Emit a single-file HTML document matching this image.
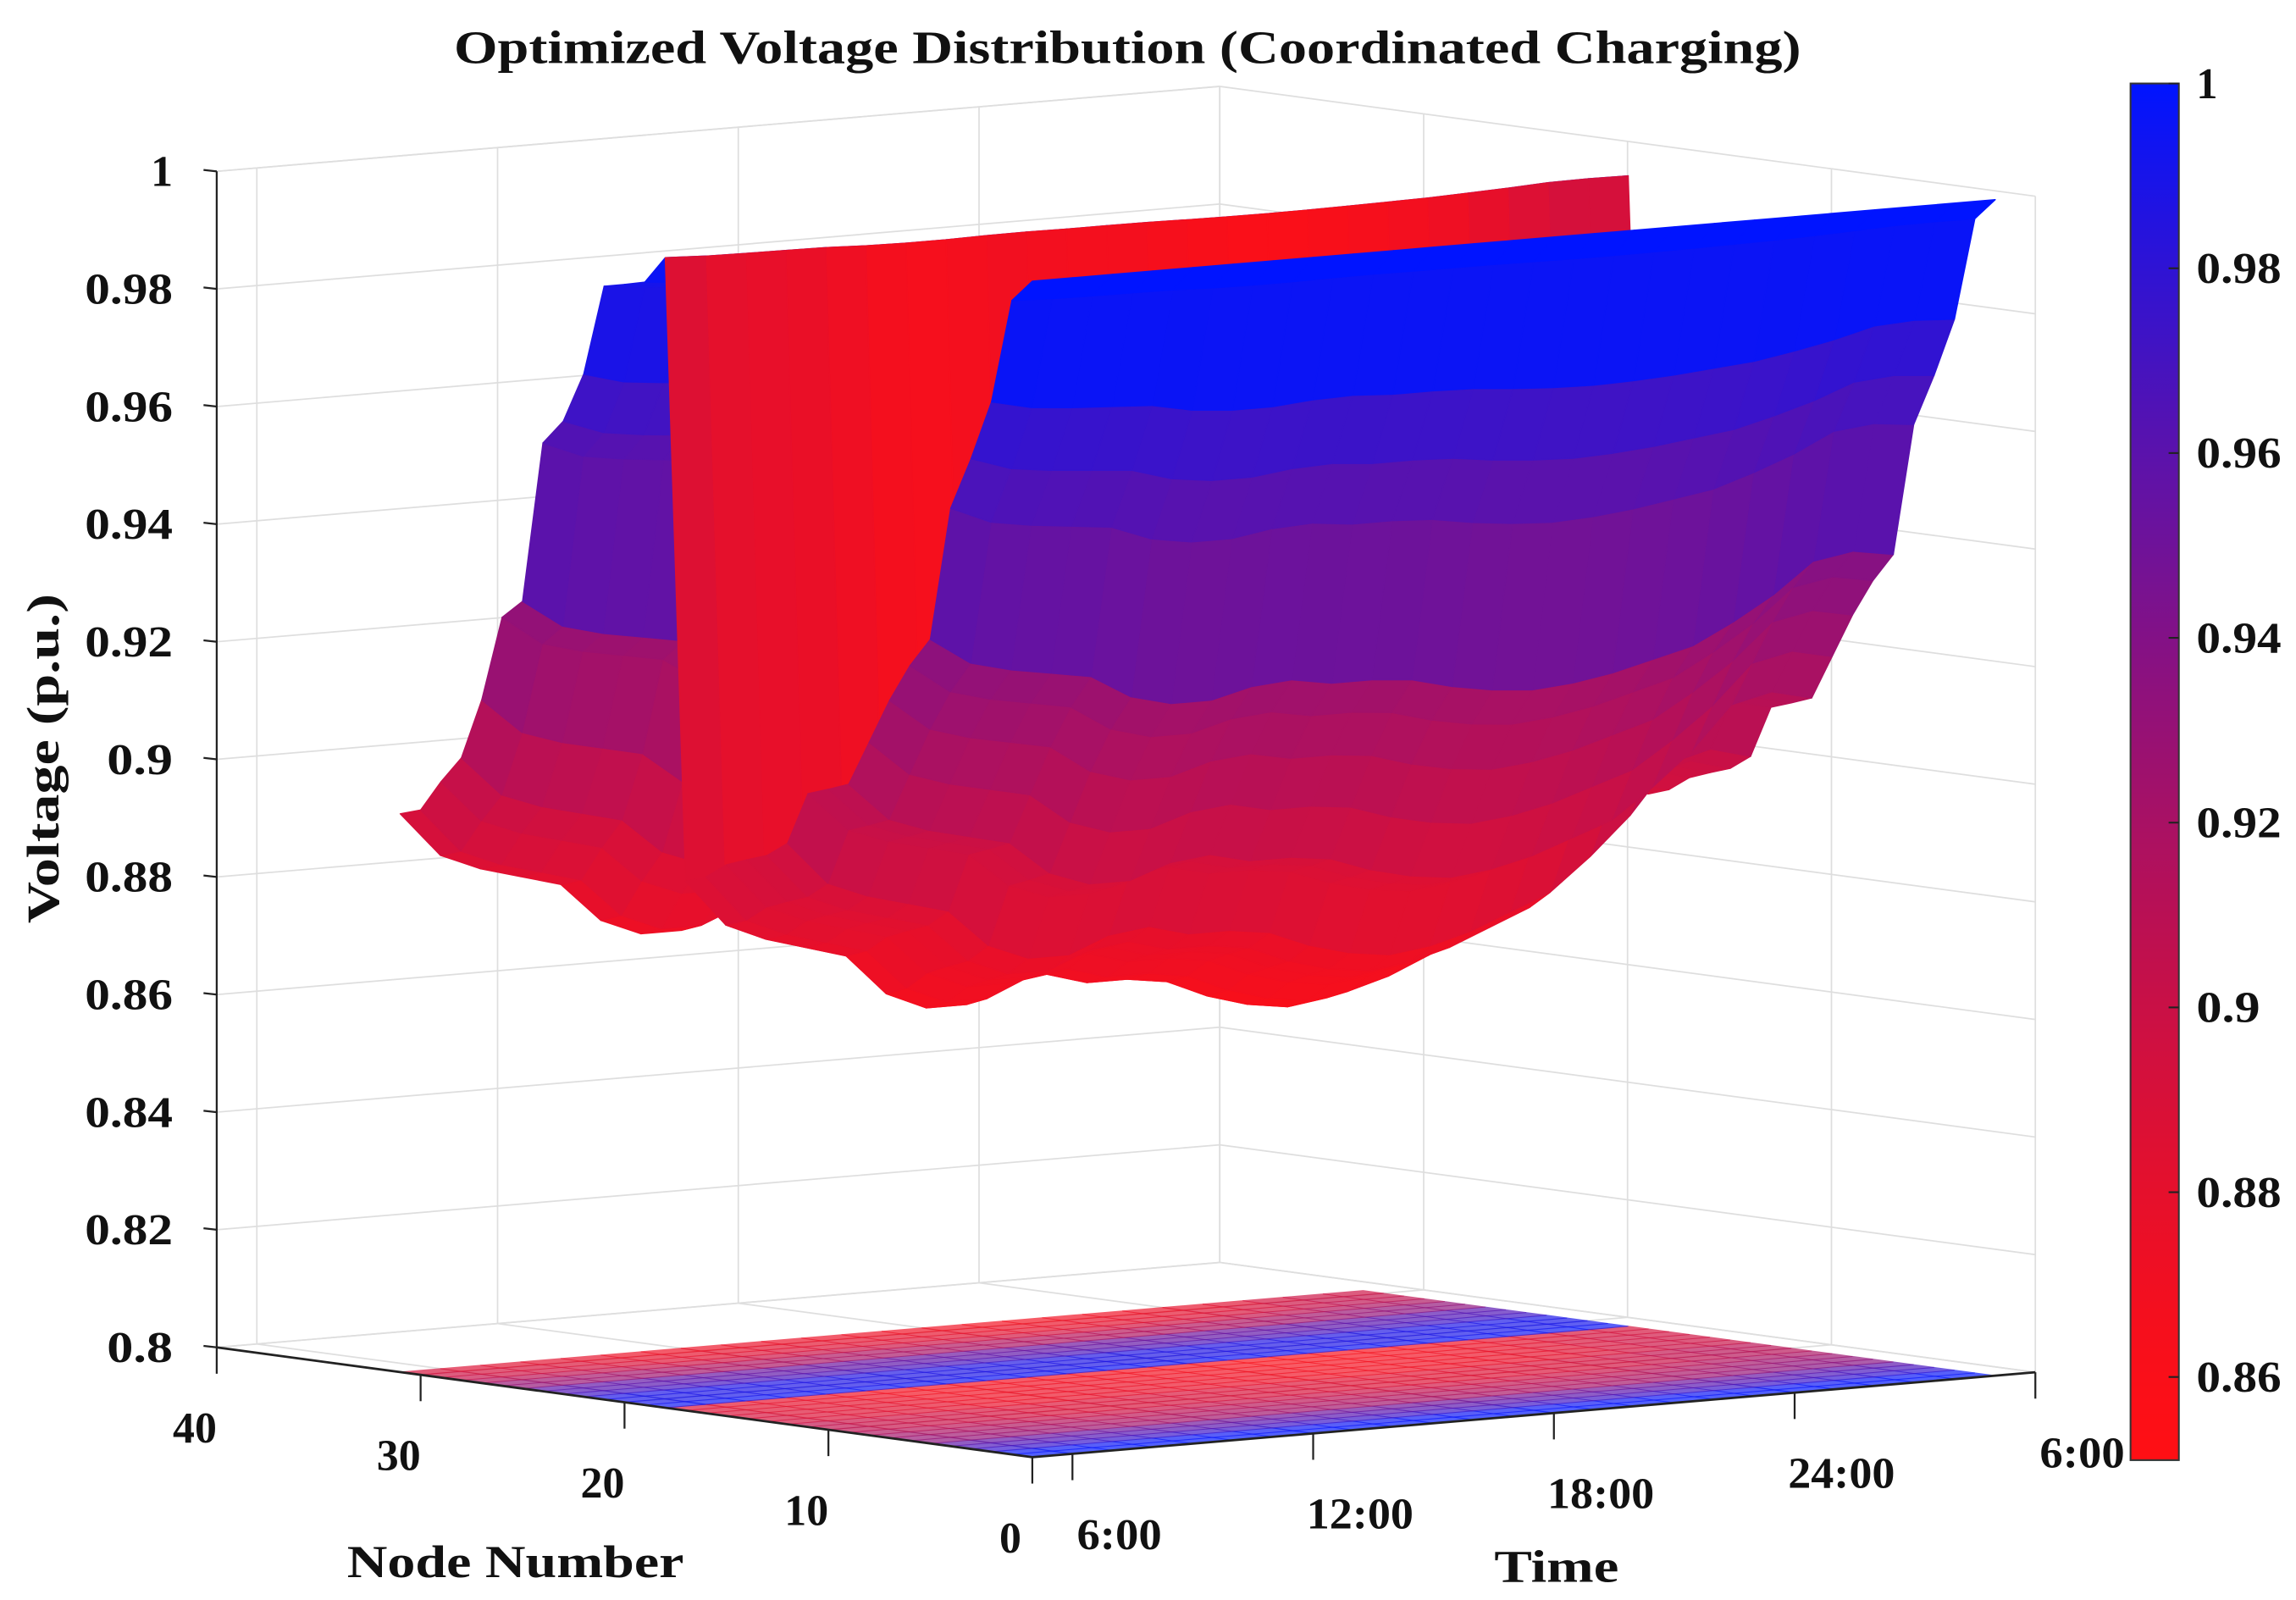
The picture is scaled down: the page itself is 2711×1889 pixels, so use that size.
<!DOCTYPE html>
<html><head><meta charset="utf-8"><style>
html,body{margin:0;padding:0;background:#fff;}
svg{display:block;}
text{font-family:"Liberation Serif",serif;font-weight:bold;fill:#111;}
</style></head><body>
<svg id="chart" xmlns="http://www.w3.org/2000/svg" width="2711" height="1889" viewBox="0 0 1568 1092.5" preserveAspectRatio="none">
<rect x="0" y="0" width="1568" height="1092.5" fill="#fff"/>
<g id="grid"></g>
<g id="floor"></g>
<g id="surface"></g>
<g id="axes"></g>
<g id="cbar"></g>
<text x="770" y="43" text-anchor="middle" font-size="32" textLength="920" lengthAdjust="spacingAndGlyphs">Optimized Voltage Distribution (Coordinated Charging)</text>
<text x="352" y="1077" text-anchor="middle" font-size="31" textLength="230" lengthAdjust="spacingAndGlyphs">Node Number</text>
<text x="1063" y="1080" text-anchor="middle" font-size="31" textLength="85" lengthAdjust="spacingAndGlyphs">Time</text>
<text x="0" y="0" transform="translate(40,518) rotate(-90)" text-anchor="middle" font-size="31" textLength="225" lengthAdjust="spacingAndGlyphs">Voltage (p.u.)</text>
</svg>
<script>
// ---- data ----
const hours = [5,6,7,8,9,10,11,12,13,14,15,16,17,18,19,20,21,22,23,24,25,26,27,28,29];
const minVoltage = [0.890,0.882,0.879,0.877,0.875,0.868,0.865,0.865,0.868,0.869,0.867,0.867,0.866,0.863,0.861,0.860,0.861,0.863,0.866,0.869,0.875,0.882,0.891,0.893,0.891];
const nodeDrop = [0,0.034,0.195,0.287,0.368,0.575,0.62,0.678,0.747,0.816,0.828,0.839,0.92,0.943,0.954,0.966,0.989,1.0,0.04,0.082,0.09,0.097,0.237,0.314,0.352,0.601,0.63,0.762,0.856,0.897,0.945,0.955];
const zTicks = [0.8,0.82,0.84,0.86,0.88,0.9,0.92,0.94,0.96,0.98,1];
const zTickLabels = ['0.8','0.82','0.84','0.86','0.88','0.9','0.92','0.94','0.96','0.98','1'];
const nodeTicks = [0,10,20,30,40];
const nodeTickLabels = ['0','10','20','30','40'];
const timeTicks = [6,12,18,24,30];
const timeTickLabels = ['6:00','12:00','18:00','24:00','6:00'];
const cbarTicks = [1,0.98,0.96,0.94,0.92,0.9,0.88,0.86];
const cbarTickLabels = ['1','0.98','0.96','0.94','0.92','0.9','0.88','0.86'];

// ---- axis functions ----
const H0=5,H1=30,VMIN=0.8,VMAX=1.0;
function P(n,h,v){
  const t=(h-H0)/(H1-H0);
  return [705-557*n/40+685*t, 995-75*n/40-58*t-(v-VMIN)/(VMAX-VMIN)*803];
}
function floorDepth(n,h){const t=(h-H0)/(H1-H0);return 995-75*n/40-58*t;}
const CMIN=0.851,CMAX=1.0;
function cmap(v){
  let c=(v-CMIN)/(CMAX-CMIN);c=Math.max(0,Math.min(1,c));
  c=Math.pow(c,1.4);
  const r=Math.round(255*(1-c)),g=Math.round(15+5*c),b=Math.round(20+235*c);
  return 'rgb('+r+','+g+','+b+')';
}
function volt(i,j){return 1-nodeDrop[i]*(1-minVoltage[j]);}
const NS='http://www.w3.org/2000/svg';
function mk(tag,parent,attrs){const e=document.createElementNS(NS,tag);for(const k in attrs)e.setAttribute(k,attrs[k]);parent.appendChild(e);return e;}
function pts(a){return a.map(p=>p[0].toFixed(2)+','+p[1].toFixed(2)).join(' ');}

// ---- grid ----
const grid=document.getElementById('grid');
const gs={stroke:'#dedede','stroke-width':1,fill:'none'};
function gline(a,b,name){const l=mk('line',grid,Object.assign({x1:a[0],y1:a[1],x2:b[0],y2:b[1]},gs));

}
zTicks.forEach(v=>{gline(P(40,H0,v),P(40,H1,v),'back-wall-gridline');gline(P(40,H1,v),P(0,H1,v),'side-wall-gridline');});
timeTicks.forEach(h=>{gline(P(40,h,VMIN),P(40,h,VMAX),'back-wall-gridline');gline(P(0,h,VMIN),P(40,h,VMIN),'floor-gridline');});
nodeTicks.forEach(n=>{gline(P(n,H1,VMIN),P(n,H1,VMAX),'side-wall-gridline');gline(P(n,H0,VMIN),P(n,H1,VMIN),'floor-gridline');});
gline(P(40,H0,VMAX),P(40,H1,VMAX),'back-wall-gridline');

// ---- floor projection & surface quads ----
const floorG=document.getElementById('floor');
const surfG=document.getElementById('surface');
const quads=[];
for(let i=0;i<nodeDrop.length-1;i++){
  for(let j=0;j<hours.length-1;j++){
    const c=cmap((volt(i,j)+volt(i,j+1))/2);
    const fp=[P(i,hours[j],VMIN),P(i,hours[j+1],VMIN),P(i+1,hours[j+1],VMIN),P(i+1,hours[j],VMIN)];
    const f=mk('polygon',floorG,{points:pts(fp),fill:c,stroke:c,'stroke-width':0.6,opacity:0.68});
    
    
    const sp=[P(i,hours[j],volt(i,j)),P(i,hours[j+1],volt(i,j+1)),P(i+1,hours[j+1],volt(i+1,j+1)),P(i+1,hours[j],volt(i+1,j))];
    quads.push({d:floorDepth(i+0.5,(hours[j]+hours[j+1])/2),sp:sp,c:c});
  }
}
quads.sort((a,b)=>a.d-b.d);
quads.forEach(q=>{
  const p=mk('polygon',surfG,{points:pts(q.sp),fill:q.c,stroke:q.c,'stroke-width':0.8,'stroke-linejoin':'round'});
  
  
});

// ---- axes ----
const axes=document.getElementById('axes');
function aline(a,b,name,w){const l=mk('line',axes,{x1:a[0],y1:a[1],x2:b[0],y2:b[1],stroke:'#222','stroke-width':w||1.3});

}
function atext(x,y,s,anchor,len,name){const t=mk('text',axes,{x:x,y:y,'text-anchor':anchor,'font-size':30,textLength:len,lengthAdjust:'spacingAndGlyphs'});t.textContent=s;

}
aline(P(40,H0,VMIN),P(40,H0,VMAX),'voltage-axis-line');
aline(P(40,H0,VMIN),P(0,H0,VMIN),'node-axis-line',1.6);
aline(P(0,H0,VMIN),P(0,H1,VMIN),'time-axis-line',1.6);
zTicks.forEach((v,k)=>{const p=P(40,H0,v);aline([p[0]-9,p[1]-1],p,'voltage-tick');
  atext(p[0]-30,p[1]+10,zTickLabels[k],'end',zTickLabels[k].length*15,'voltage-tick-label');});
nodeTicks.forEach((n,k)=>{const p=P(n,H0,VMIN);aline(p,[p[0],p[1]+18],'node-tick');
  atext(p[0]-15,p[1]+65,nodeTickLabels[k],'middle',nodeTickLabels[k].length*15,'node-tick-label');});
timeTicks.forEach((h,k)=>{const p=P(0,h,VMIN);aline(p,[p[0],p[1]+18],'time-tick');
  atext(p[0]+32,p[1]+65,timeTickLabels[k],'middle',timeTickLabels[k].length*15-2,'time-tick-label');});

// ---- colorbar ----
const cb=document.getElementById('cbar');
const CBX=1455,CBW=33,CBT=57,CBB=997;
function cbY(v){return CBB-(v-CMIN)/(CMAX-CMIN)*(CBB-CBT);}
const defs=mk('defs',cb,{});
const lg=mk('linearGradient',defs,{id:'cg',x1:0,y1:1,x2:0,y2:0});
for(let s=0;s<=20;s++){mk('stop',lg,{offset:s/20,'stop-color':cmap(CMIN+(CMAX-CMIN)*s/20)});}
const bar=mk('rect',cb,{x:CBX,y:CBT,width:CBW,height:CBB-CBT,fill:'url(#cg)',stroke:'#333','stroke-width':1.2});


cbarTicks.forEach((v,k)=>{const y=cbY(v);
  const l=mk('line',cb,{x1:CBX+CBW-7,y1:y,x2:CBX+CBW,y2:y,stroke:'#222','stroke-width':1.2});
  
  
  const t=mk('text',cb,{x:1500,y:y+10,'font-size':30,textLength:cbarTickLabels[k].length*14.5,lengthAdjust:'spacingAndGlyphs'});
  t.textContent=cbarTickLabels[k];
  
  
});
</script>
</body></html>
